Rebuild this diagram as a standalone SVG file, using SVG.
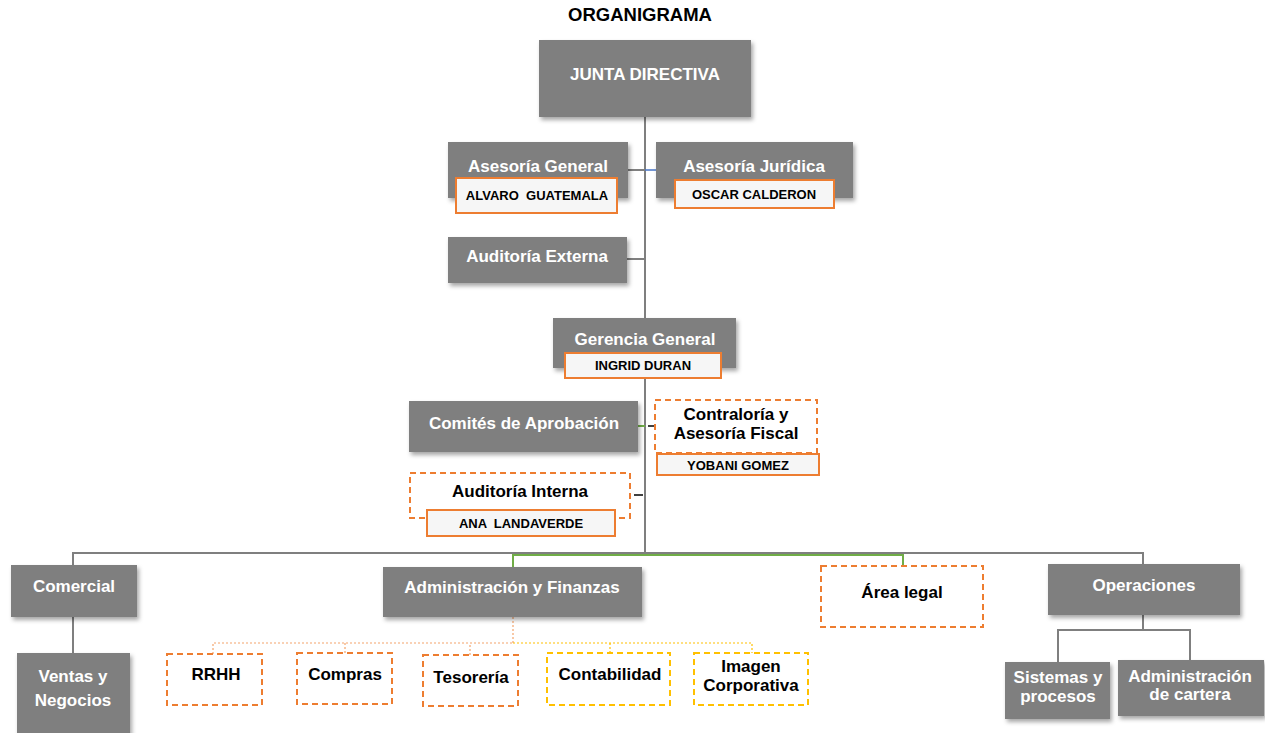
<svg xmlns="http://www.w3.org/2000/svg" width="1265" height="733" viewBox="0 0 1265 733">
<style>
text{font-family:"Liberation Sans",Arial,sans-serif;font-weight:bold;text-anchor:middle;dominant-baseline:central}
.g rect{fill:#7f7f7f;filter:url(#sh)}
.g text{fill:#fff;font-size:17px}
.d rect{fill:#fff;stroke:#ed7d31;stroke-width:2;stroke-dasharray:6,4}
.y rect{stroke:#ffc000}
.d text{fill:#000;font-size:17px}
.g .n,.d .n{fill:#f6f6f6;stroke:#ed7d31;stroke-width:2;stroke-dasharray:none;filter:none}
.g .nt,.d .nt{fill:#000;font-size:13px;white-space:pre}
.ln{fill:none;stroke:#7f7f7f;stroke-width:2}
.gr{fill:none;stroke:#70ad47;stroke-width:2}
.dt{fill:none;stroke:#f4a46c;stroke-width:1.2;stroke-dasharray:2,2}
.dy{fill:none;stroke:#ffc000;stroke-width:1.2;stroke-dasharray:2,2}
</style>
<defs>
<filter id="sh" x="-10%" y="-10%" width="125%" height="130%">
<feDropShadow dx="2" dy="3" stdDeviation="2" flood-color="#000" flood-opacity="0.35"/>
</filter>
</defs>
<text x="640" y="14" style="font-size:18.5px;fill:#000">ORGANIGRAMA</text>
<g id="connectors">
<path class="ln" d="M645 117V553"/>
<path class="ln" d="M628 170H645"/>
<path d="M645 170H656" stroke="#4472c4" stroke-width="1.5"/>
<path class="ln" d="M627 259H645"/>
<path class="gr" d="M638 426H645"/>
<path d="M648 426H654" stroke="#404040" stroke-width="2"/>
<path d="M634 495H643" stroke="#404040" stroke-width="2"/>
<path class="ln" d="M73 565V553H1143V564"/>
<path class="gr" d="M513 567V555H903V566"/>
<path class="ln" d="M73 617V653"/>
<path class="dt" d="M513 617V643M213 654V643H513M345 653V643M470 655V643"/>
<path class="dy" d="M513 643H752V653M610 643V653"/>
<path class="ln" d="M1143 615V630M1058 662V630H1190V660"/>
</g>
<g id="junta" class="g"><rect x="539" y="40" width="212" height="77"/><text x="645" y="74">JUNTA DIRECTIVA</text></g>
<g id="asesoria-general" class="g"><rect x="448" y="142" width="180" height="56"/><text x="538" y="166">Asesoría General</text>
<rect class="n" x="456" y="178" width="161" height="35"/><text class="nt" x="537" y="195" xml:space="preserve">ALVARO  GUATEMALA</text></g>
<g id="asesoria-juridica" class="g"><rect x="656" y="142" width="197" height="56"/><text x="754" y="166">Asesoría Jurídica</text>
<rect class="n" x="675" y="180" width="159" height="28"/><text class="nt" x="754" y="194">OSCAR CALDERON</text></g>
<g id="auditoria-externa" class="g"><rect x="448" y="237" width="179" height="46"/><text x="537" y="256">Auditoría Externa</text></g>
<g id="gerencia" class="g"><rect x="553" y="318" width="183" height="50"/><text x="645" y="339">Gerencia General</text>
<rect class="n" x="565" y="353" width="156" height="25"/><text class="nt" x="643" y="365">INGRID DURAN</text></g>
<g id="comites" class="g"><rect x="409" y="401" width="229" height="51"/><text x="524" y="423">Comités de Aprobación</text></g>
<g id="contraloria" class="d"><rect x="655" y="400" width="162" height="53"/><text x="736" y="414">Contraloría y</text><text x="736" y="433">Asesoría Fiscal</text>
<rect class="n" x="657" y="454" width="162" height="21"/><text class="nt" x="738" y="465">YOBANI GOMEZ</text></g>
<g id="auditoria-interna" class="d"><rect x="410" y="473" width="220" height="45"/><text x="520" y="491">Auditoría Interna</text>
<rect class="n" x="427" y="510" width="188" height="26"/><text class="nt" x="521" y="523" xml:space="preserve">ANA  LANDAVERDE</text></g>
<g id="comercial" class="g"><rect x="11" y="565" width="126" height="52"/><text x="74" y="586">Comercial</text></g>
<g id="ventas" class="g"><rect x="17" y="653" width="113" height="82"/><text x="73" y="676">Ventas y</text><text x="73" y="700">Negocios</text></g>
<g id="admin-finanzas" class="g"><rect x="383" y="567" width="259" height="50"/><text x="512" y="587">Administración y Finanzas</text></g>
<g id="area-legal" class="d"><rect x="821" y="566" width="162" height="61"/><text x="902" y="592">Área legal</text></g>
<g id="operaciones" class="g"><rect x="1048" y="564" width="192" height="51"/><text x="1144" y="585">Operaciones</text></g>
<g id="rrhh" class="d"><rect x="167" y="654" width="95" height="51"/><text x="216" y="674">RRHH</text></g>
<g id="compras" class="d"><rect x="297" y="653" width="95" height="51"/><text x="345" y="674">Compras</text></g>
<g id="tesoreria" class="d"><rect x="423" y="655" width="95" height="51"/><text x="471" y="677">Tesorería</text></g>
<g id="contabilidad" class="d y"><rect x="547" y="653" width="123" height="52"/><text x="610" y="674">Contabilidad</text></g>
<g id="imagen" class="d y"><rect x="694" y="653" width="114" height="52"/><text x="751" y="666">Imagen</text><text x="751" y="685">Corporativa</text></g>
<g id="sistemas" class="g"><rect x="1005" y="662" width="105" height="57"/><text x="1058" y="677">Sistemas y</text><text x="1058" y="696">procesos</text></g>
<g id="cartera" class="g"><rect x="1118" y="660" width="146" height="56"/><text x="1190" y="676">Administración</text><text x="1190" y="694">de cartera</text></g>
</svg>
